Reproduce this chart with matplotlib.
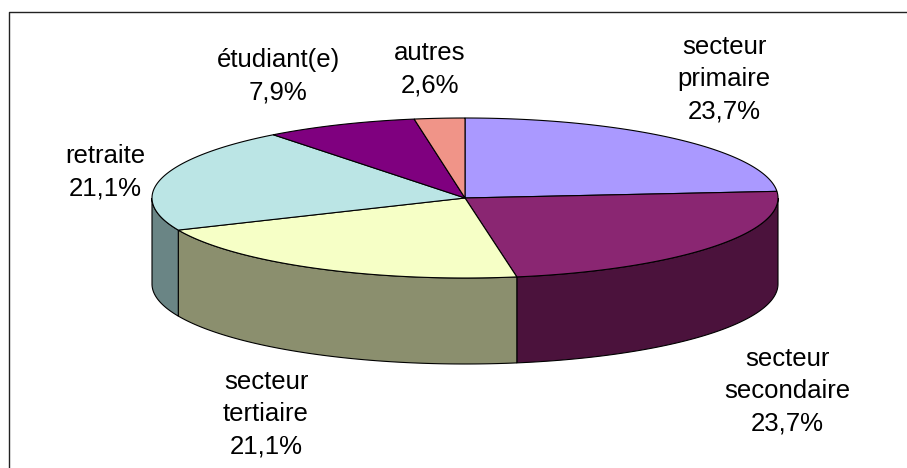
import numpy as np
import matplotlib
matplotlib.use('Agg')
import matplotlib.pyplot as plt
from matplotlib.patches import Polygon

plt.rcParams['font.family'] = ['Liberation Sans', 'DejaVu Sans']

# Data
labels = ['secteur\nprimaire\n23,7%', 'secteur\nsecondaire\n23,7%', 'secteur\ntertiaire\n21,1%',
          'retraite\n21,1%', 'étudiant(e)\n7,9%', 'autres\n2,6%']
values = [23.7, 23.7, 21.1, 21.1, 7.9, 2.6]
top_colors = ['#AA99FF', '#8A2672', '#F6FFC6', '#BBE5E5', '#7F007F', '#F09488']
side_colors = ['#5A4F88', '#4B123C', '#8B8F6E', '#6A8585', '#440044', '#804A44']
label_pos = [(724, 79), (787, 391), (266, 414), (105, 172), (278, 76), (430, 69)]

# Geometry in pixels
cx, cy, rx, ry = 465, 198, 313, 80
depth = 86

fig = plt.figure(figsize=(9.07, 4.68), dpi=100)
ax = fig.add_axes([0, 0, 1, 1])
ax.set_xlim(0, 907)
ax.set_ylim(468, 0)
ax.axis('off')

# frame is cut off by the image on the right and at the bottom
ax.plot([8.5, 8.5, 907], [468, 11.5, 11.5], color='#222222', linewidth=1)


def point(ang):
    return cx + rx * np.sin(ang), cy - ry * np.cos(ang)


edges = np.cumsum([0] + values) / sum(values) * 2 * np.pi

# side walls, only the part facing the viewer (angle between pi/2 and 3pi/2)
for i in range(len(values)):
    a = max(edges[i], np.pi / 2)
    b = min(edges[i + 1], 3 * np.pi / 2)
    if b <= a:
        continue
    t = np.linspace(a, b, 80)
    x, y = point(t)
    pts = np.r_[np.c_[x, y], np.c_[x[::-1], y[::-1] + depth]]
    ax.add_patch(Polygon(pts, facecolor=side_colors[i], edgecolor='black', linewidth=0.8, zorder=2))

# top of the pie
for i in range(len(values)):
    t = np.linspace(edges[i], edges[i + 1], 120)
    x, y = point(t)
    pts = np.r_[[[cx, cy]], np.c_[x, y]]
    ax.add_patch(Polygon(pts, facecolor=top_colors[i], edgecolor='black', linewidth=0.8, zorder=3))

for lab, (lx, ly) in zip(labels, label_pos):
    ax.text(lx, ly, lab, ha='center', va='center', fontsize=18.5, linespacing=1.43, color='black')

fig.savefig('out.png', dpi=100)
